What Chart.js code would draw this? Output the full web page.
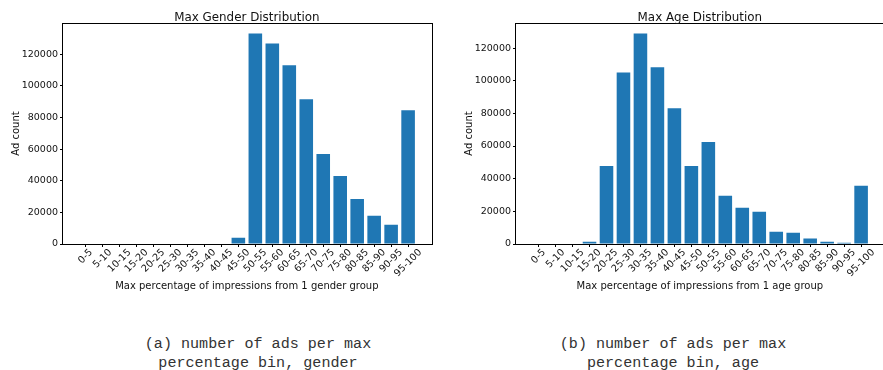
<!DOCTYPE html>
<html>
<head>
<meta charset="utf-8">
<script src="https://cdn.jsdelivr.net/npm/chart.js@4"></script>
<style>
  html, body { margin: 0; padding: 0; background: #fff; overflow: hidden; }
  body { width: 883px; height: 370px; position: relative; }
  canvas { position: absolute; top: 0; }
  .cap { position: absolute; top: 335px; width: 320px; text-align: center;
         font-family: "Liberation Mono", monospace; font-size: 15.1px; line-height: 19px; color: #333; }
</style>
</head>
<body>
<canvas id="gender" width="441" height="300" style="left:0px"></canvas>
<canvas id="age" width="441" height="300" style="left:453px"></canvas>
<div class="cap" style="left:98px">(a) number of ads per max<br>percentage bin, gender</div>
<div class="cap" style="left:513px">(b) number of ads per max<br>percentage bin, age</div>
<script>
// bins (same for both plots)
const bins = ['0-5','5-10','10-15','15-20','20-25','25-30','30-35','35-40','40-45','45-50',
  '50-55','55-60','60-65','65-70','70-75','75-80','80-85','85-90','90-95','95-100'];

// ad counts
const genderCounts = [0,0,0,0,0,0,0,0,0,4000,133000,126700,112900,91500,56800,43000,28500,17800,12200,84500];
const ageCounts = [0,0,0,1400,47800,105100,128900,108200,83200,47800,62400,29500,22200,19700,7500,6900,3300,1400,800,35600];

const yTicks = [0,20000,40000,60000,80000,100000,120000];

const FONT = "'DejaVu Sans', sans-serif";

// matplotlib-ish: spines, title, axis labels, rotated centred tick labels
const mplDecor = {
  id: 'mplDecor',
  afterDraw(chart, args, o) {
    const ctx = chart.ctx, a = chart.chartArea, xs = chart.scales.x;
    ctx.save();
    ctx.strokeStyle = '#000';
    ctx.lineWidth = 1;
    ctx.strokeRect(Math.round(a.left) + 0.5, Math.round(a.top) + 0.5,
                   Math.round(a.right - a.left), Math.round(a.bottom - a.top));
    ctx.fillStyle = '#111';
    ctx.textAlign = 'center';
    ctx.textBaseline = 'alphabetic';
    ctx.font = '11.9px ' + FONT;
    ctx.fillText(o.title, (a.left + a.right) / 2, 20.6);
    ctx.font = '10px ' + FONT;
    ctx.fillText(o.xTitle, (a.left + a.right) / 2, 288.5);
    ctx.save();
    ctx.translate(18.8, (a.top + a.bottom) / 2);
    ctx.rotate(-Math.PI / 2);
    ctx.fillText('Ad count', 0, 0);
    ctx.restore();

    // tick labels, rotated 45 deg, bbox centred on tick
    const fs = 9.7;
    ctx.font = fs + 'px ' + FONT;
    ctx.textBaseline = 'middle';
    bins.forEach((b, i) => {
      const w = ctx.measureText(b).width;
      const bh = (w + fs) * Math.SQRT1_2;
      const x = xs.getPixelForValue(i);
      ctx.save();
      ctx.translate(x, 247.5 + bh / 2);
      ctx.rotate(-Math.PI / 4);
      ctx.fillText(b, 0, 0);
      ctx.restore();
    });
    ctx.restore();
  }
};

function makeChart(id, values, title, xTitle) {
  const n = values.length;
  const pad = 0.05 * (n - 1 + 0.8);
  new Chart(document.getElementById(id), {
    type: 'bar',
    data: {
      datasets: [{
        data: values.map((v, i) => ({ x: i, y: v })),
        backgroundColor: '#1f77b4',
        barPercentage: 0.8,
        categoryPercentage: 1.0
      }]
    },
    options: {
      responsive: false,
      animation: false,
      devicePixelRatio: 1,
      layout: { padding: { top: 23, right: 9.3, left: 0, bottom: 0 } },
      plugins: {
        legend: { display: false },
        tooltip: { enabled: false },
        mplDecor: { title: title, xTitle: xTitle }
      },
      scales: {
        x: {
          type: 'linear',
          offset: false,
          min: -0.4 - pad,
          max: n - 1 + 0.4 + pad,
          afterBuildTicks: s => { s.ticks = bins.map((b, i) => ({ value: i })); },
          afterFit: s => { s.height = 56; },
          ticks: { display: false },
          grid: { offset: false, drawOnChartArea: false, drawTicks: true, tickLength: 3, color: '#000' },
          border: { display: false }
        },
        y: {
          min: 0,
          max: Math.max(...values) * 1.05,
          afterBuildTicks: s => { s.ticks = yTicks.map(v => ({ value: v })); },
          afterFit: s => { s.width = 62; },
          ticks: {
            color: '#111',
            padding: 2,
            font: { family: FONT, size: 9.5 },
            callback: v => String(v)
          },
          grid: { drawOnChartArea: false, drawTicks: true, tickLength: 2, color: '#000' },
          border: { display: false }
        }
      }
    },
    plugins: [mplDecor]
  });
}

makeChart('gender', genderCounts, 'Max Gender Distribution', 'Max percentage of impressions from 1 gender group');
makeChart('age', ageCounts, 'Max Age Distribution', 'Max percentage of impressions from 1 age group');
</script>
</body>
</html>
